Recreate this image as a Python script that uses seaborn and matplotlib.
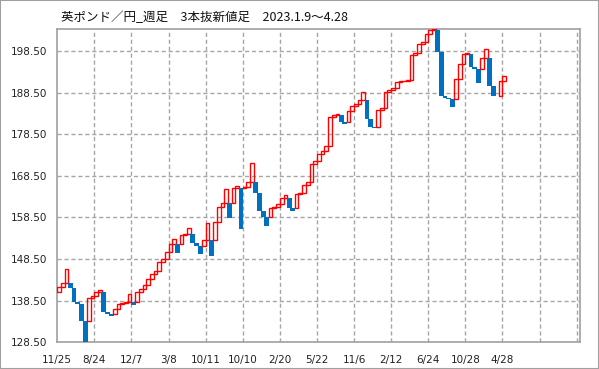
import matplotlib
matplotlib.use('Agg')
import matplotlib.pyplot as plt
import matplotlib.patches as mpatches
import seaborn as sns

# GBP/JPY weekly, three-line break chart
title = "英ポンド／円_週足　3本抜新値足　2023.1.9～4.28"

first_open = 140.52
closes = [
    141.72, 142.68, 146.05, 141.48, 138.26, 137.63, 133.69, 127.90, 139.08, 139.70,
    140.66, 141.07, 135.71, 135.23, 134.75, 136.50, 137.78, 138.02, 138.26, 140.04,
    137.47, 140.66, 141.31, 142.27, 143.72, 144.85, 145.64, 147.73, 148.52, 150.13,
    152.13, 153.26, 149.89, 154.29, 154.53, 155.90, 152.30, 151.65, 149.65, 153.10,
    157.10, 149.32, 157.35, 161.10, 162.06, 165.28, 158.45, 165.52, 166.14, 155.74,
    165.90, 166.96, 171.53, 164.32, 160.13, 158.69, 156.53, 160.86, 161.10, 161.75,
    163.12, 163.91, 160.70, 160.10, 164.08, 164.32, 166.31, 166.96, 171.36, 172.08,
    173.76, 174.56, 175.69, 182.54, 183.02, 183.31, 181.53, 180.90, 184.17, 185.30,
    185.66, 186.67, 188.60, 182.10, 180.33, 179.94, 184.30, 184.90, 188.60, 189.03,
    189.68, 191.02, 191.26, 191.36, 191.55, 197.44, 197.97, 200.28, 200.69, 202.56,
    203.57, 203.74, 198.21, 187.78, 187.30, 186.99, 185.13, 191.72, 195.40, 197.73,
    197.97, 194.75, 194.13, 190.90, 196.77, 198.93, 190.18, 187.78, 187.63, 191.38,
    192.59,
]

date_labels = ["11/25", "8/24", "12/7", "3/8", "10/11", "10/10", "2/20",
               "5/22", "11/6", "2/12", "6/24", "10/28", "4/28"]
y_ticks = [128.5, 138.5, 148.5, 158.5, 168.5, 178.5, 188.5, 198.5]

up_color = '#ff0000'
down_color = '#0070c0'
grid_color = '#a6a6a6'


def line_break(first_open, closes):
    # each new line starts from the previous line's high (up) or low (down)
    opens, ups = [], []
    lo = hi = None
    for i, c in enumerate(closes):
        if i == 0:
            o = first_open
            up = c > o
        elif c > hi:
            o, up = hi, True
        else:
            o, up = lo, False
        opens.append(o)
        ups.append(up)
        lo, hi = min(o, c), max(o, c)
    return opens, ups


sns.set_style('white')
plt.rcParams['font.family'] = ['DejaVu Sans']

fig = plt.figure(figsize=(5.99, 3.69), dpi=100)
ax = fig.add_axes([57.3 / 599, 1 - 342.3 / 369, (580 - 57.3) / 599, (342.3 - 29) / 369])

opens, ups = line_break(first_open, closes)
for i, (o, c, up) in enumerate(zip(opens, closes, ups)):
    lo, h = min(o, c), abs(c - o)
    if up:
        ax.bar(i, h, bottom=lo, width=1.0, align='edge', facecolor='none',
               edgecolor=up_color, linewidth=1.0, zorder=3)
    else:
        ax.bar(i - 0.15, h, bottom=lo, width=1.3, align='edge', color=down_color,
               linewidth=0, zorder=3)

ax.set_xlim(0, 140.9)
ax.set_ylim(128.5, 203.8)

ax.set_xticks(range(0, 141, 10))
ax.set_xticklabels(date_labels + [''] * (15 - len(date_labels)))
ax.set_yticks(y_ticks)
ax.set_yticklabels([f'{v:.2f}' for v in y_ticks])
ax.tick_params(axis='both', which='major', length=4, width=1, color='#a0a0a0',
               labelsize=7.5, labelcolor='#222222', pad=3, direction='out')
ax.tick_params(axis='x', pad=5)

for v in y_ticks[1:]:
    ax.axhline(v, color=grid_color, linewidth=1.0, linestyle=(0, (3, 2)), zorder=1)
for x in range(10, 141, 10):
    ax.axvline(x, color=grid_color, linewidth=1.0, linestyle=(0, (3, 2)), zorder=1)

for s in ax.spines.values():
    s.set_color('#a0a0a0')
    s.set_linewidth(1.2)
    s.set_visible(True)

fig.text(61 / 599, 1 - 17.5 / 369, title, fontsize=9, va='center', ha='left',
         family=['Noto Sans CJK JP', 'DejaVu Sans'], color='#111111')

fig.patches.append(mpatches.Rectangle((0, 0), 1, 1, transform=fig.transFigure,
                                      fill=False, edgecolor='#a0a0a0', linewidth=1.5))

fig.savefig('out.png', dpi=100)
